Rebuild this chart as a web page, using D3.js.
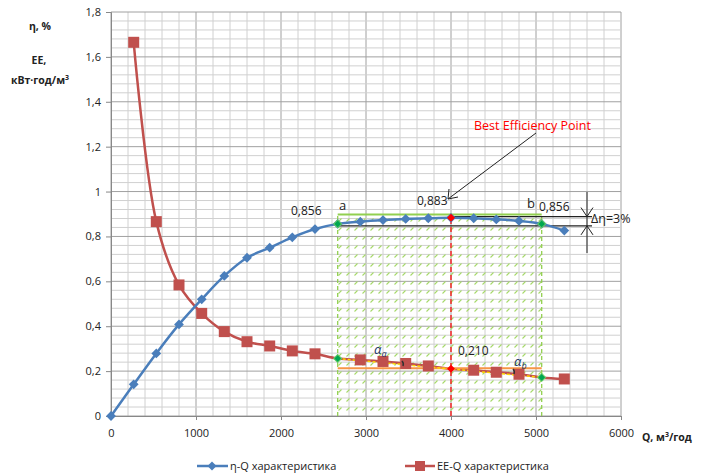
<!DOCTYPE html>
<html><head><meta charset="utf-8">
<script src="https://cdn.jsdelivr.net/npm/d3@7"></script>
<style>body{margin:0;background:#fff}svg{display:block}text{font-family:"Open Sans","Liberation Sans",sans-serif}</style>
</head><body>
<script>
// ---- data ----
const flowQ = [0,267,533,800,1067,1333,1600,1867,2133,2400,2667,2933,3200,3467,3733,4000,4267,4533,4800,5067,5333];
const etaValues = [0,0.141,0.279,0.408,0.520,0.624,0.705,0.750,0.796,0.833,0.856,0.866,0.873,0.878,0.881,0.883,0.881,0.876,0.869,0.856,0.826];
const eeQ = [267,533,800,1067,1333,1600,1867,2133,2400,2667,2933,3200,3467,3733,4000,4267,4533,4800,5067,5333];
const eeValues = [1.665,0.866,0.584,0.457,0.376,0.331,0.312,0.290,0.277,0.256,0.250,0.243,0.234,0.223,0.210,0.204,0.195,0.186,0.172,0.165];
const xTicks = [0,1000,2000,3000,4000,5000,6000];
const yTicks = [0,0.2,0.4,0.6,0.8,1,1.2,1.4,1.6,1.8];
const bepQ = 4000, bepEta = 0.883, bepEE = 0.210;
const pointA = 2667, pointB = 5067, etaAB = 0.856;
const bandTop = 0.893, eeRef = 0.213;
const seriesNames = ["η-Q характеристика","EE-Q характеристика"];

const W = 710, H = 475;
const svg = d3.select("body").append("svg").attr("width", W).attr("height", H);
const x = d3.scaleLinear().domain([0,6000]).range([111,621]);
const y = d3.scaleLinear().domain([0,1.8]).range([416,12]);
const fmt = d => d3.format(".1f")(d).replace(".", ",").replace(/^0,0$/, "0").replace(/,0$/, "");
function fmt2(v) { return d3.format(".3f")(v).replace(".", ","); }

// grid
const g = svg.append("g");
d3.range(0, 6001, 200).forEach(v => {
  const major = v % 1000 === 0;
  g.append("line").attr("x1", x(v)).attr("x2", x(v)).attr("y1", y(0)).attr("y2", y(1.8))
    .attr("stroke", major ? "#a0a0a0" : "#d0d0d0").attr("stroke-width", 1);
});
d3.range(0, 46).forEach(i => {
  const v = i * 0.04, major = i % 5 === 0;
  g.append("line").attr("x1", x(0)).attr("x2", x(6000)).attr("y1", y(v)).attr("y2", y(v))
    .attr("stroke", major ? "#a0a0a0" : "#d0d0d0").attr("stroke-width", 1);
});

// hatch pattern
const defs = svg.append("defs");
const pat = defs.append("pattern").attr("id", "hatch").attr("patternUnits", "userSpaceOnUse")
  .attr("width", 8).attr("height", 9);
pat.append("line").attr("x1", 2.5).attr("y1", 5.5).attr("x2", 5.5).attr("y2", 2.5)
  .attr("stroke", "#a6d96a").attr("stroke-width", 1.1);
svg.append("rect").attr("x", x(pointA)).attr("y", y(bandTop)).attr("width", x(pointB) - x(pointA))
  .attr("height", y(0) - y(bandTop)).attr("fill", "url(#hatch)");
[pointA, pointB].forEach(q => svg.append("line").attr("x1", x(q)).attr("x2", x(q)).attr("y1", y(0)).attr("y2", y(bandTop))
  .attr("stroke", "#92d050").attr("stroke-width", 1.3).attr("stroke-dasharray", "4,3"));

// axes
const xAxis = svg.append("g").attr("transform", `translate(0,${y(0)})`)
  .call(d3.axisBottom(x).tickValues(xTicks).tickSize(4).tickFormat(d3.format("d")));
const yAxis = svg.append("g").attr("transform", `translate(${x(0)},0)`)
  .call(d3.axisLeft(y).tickValues(yTicks).tickSize(5).tickFormat(fmt));
[xAxis, yAxis].forEach(a => {
  a.select(".domain").attr("stroke", "#888");
  a.selectAll(".tick line").attr("stroke", "#888");
  a.selectAll("text").attr("font-size", 11).attr("fill", "#222");
});
xAxis.selectAll("text").attr("dy", "1.3em");
yAxis.selectAll("text").attr("dx", "-2");

// reference lines
svg.append("line").attr("x1", x(bepQ)).attr("x2", x(bepQ)).attr("y1", y(0)).attr("y2", y(bepEta))
  .attr("stroke", "#ff0000").attr("stroke-width", 1.2).attr("stroke-dasharray", "5,3");
svg.append("line").attr("x1", x(bepQ)).attr("x2", 592).attr("y1", y(bandTop) + 1).attr("y2", y(bandTop) + 1)
  .attr("stroke", "#222").attr("stroke-width", 1.2);
svg.append("line").attr("x1", x(pointA)).attr("x2", 592).attr("y1", y(etaAB) + 2).attr("y2", y(etaAB) + 2)
  .attr("stroke", "#222").attr("stroke-width", 1.2);
svg.append("line").attr("x1", x(pointA)).attr("x2", x(pointB)).attr("y1", y(bandTop) - 1).attr("y2", y(bandTop) - 1)
  .attr("stroke", "#92d050").attr("stroke-width", 2);

// lines
const line = d3.line().curve(d3.curveCatmullRom.alpha(0.5));
const etaPts = flowQ.map((q, i) => [x(q), y(etaValues[i])]);
const eePts = eeQ.map((q, i) => [x(q), y(eeValues[i])]);
svg.append("path").attr("d", line(eePts)).attr("fill", "none").attr("stroke", "#c0504d").attr("stroke-width", 2.5);
svg.append("path").attr("d", line(etaPts)).attr("fill", "none").attr("stroke", "#4a7ebb").attr("stroke-width", 2.5);

// orange & yellow
svg.append("line").attr("x1", x(pointA)).attr("x2", x(pointB)).attr("y1", y(eeRef)).attr("y2", y(eeRef))
  .attr("stroke", "#f79646").attr("stroke-width", 2);
const eeA = eeValues[eeQ.indexOf(pointA)], eeB = eeValues[eeQ.indexOf(pointB)];
svg.append("line").attr("x1", x(pointA)).attr("x2", x(pointB)).attr("y1", y(eeA)).attr("y2", y(eeB))
  .attr("stroke", "#ffd700").attr("stroke-width", 1.5).attr("stroke-dasharray", "3,2");

// markers
const diamond = d3.symbol().type(d3.symbolSquare);
svg.append("g").selectAll("path").data(flowQ.map((q, i) => [q, etaValues[i]]))
  .join("path").attr("d", diamond.size(48)).attr("transform", d => `translate(${x(d[0])},${y(d[1])}) rotate(45)`)
  .attr("fill", "#4a7ebb");
svg.append("g").selectAll("rect").data(eeQ.map((q, i) => [q, eeValues[i]]).filter(d => d[0] !== pointA && d[0] !== pointB && d[0] !== bepQ))
  .join("rect").attr("x", d => x(d[0]) - 5.5).attr("y", d => y(d[1]) - 5.5).attr("width", 11).attr("height", 11)
  .attr("fill", "#c0504d");
// special points
[[pointA, etaAB], [pointB, etaAB], [pointA, eeA], [pointB, eeB]].forEach(d =>
  svg.append("path").attr("d", diamond.size(32)).attr("transform", `translate(${x(d[0])},${y(d[1])}) rotate(45)`)
    .attr("fill", "#00a651").attr("stroke", "#66cc66").attr("stroke-width", 1));
[[bepQ, bepEta], [bepQ, bepEE]].forEach(d =>
  svg.append("path").attr("d", diamond.size(32)).attr("transform", `translate(${x(d[0])},${y(d[1])}) rotate(45)`)
    .attr("fill", "#ff0000"));

// small angle arcs
svg.append("path").attr("d", "M402,361 q2,2 1,5").attr("fill", "none").attr("stroke", "#333").attr("stroke-width", 1.5);
svg.append("path").attr("d", "M513,369 q2,2 1,5").attr("fill", "none").attr("stroke", "#333").attr("stroke-width", 1.5);

// dimension line
svg.append("line").attr("x1", 587).attr("x2", 587).attr("y1", 192).attr("y2", 253).attr("stroke", "#222").attr("stroke-width", 1);
const topY = y(bandTop) + 1, botY = y(etaAB) + 2;
svg.append("path").attr("d", `M581,${topY - 9} L587,${topY} L593,${topY - 9}`).attr("fill", "none").attr("stroke", "#222");
svg.append("path").attr("d", `M581,${botY + 9} L587,${botY} L593,${botY + 9}`).attr("fill", "none").attr("stroke", "#222");

// BEP arrow
svg.append("line").attr("x1", 536).attr("y1", 133).attr("x2", 448).attr("y2", 199).attr("stroke", "#222").attr("stroke-width", 1);
svg.append("path").attr("d", "M449,189 L448,199 L458,197").attr("fill", "none").attr("stroke", "#222").attr("stroke-width", 1);

// text annotations
const t = (tx, ty, s, size, col, anchor) => svg.append("text").attr("x", tx).attr("y", ty).text(s)
  .attr("font-size", size || 12).attr("fill", col || "#222").attr("text-anchor", anchor || "start");
t(474, 130, "Best Efficiency Point", 12.5, "#ff0000");
t(291, 215, fmt2(etaAB), 12);
t(339, 210, "a", 13);
t(417, 205, fmt2(bepEta), 12);
t(527, 208, "b", 13);
t(539, 211, fmt2(etaAB), 12);
t(591, 223, "Δη=3%", 12.5);
t(458, 355, fmt2(bepEE), 12);
const alpha = (ax, ay, sub) => {
  const tx = svg.append("text").attr("x", ax).attr("y", ay).attr("font-size", 13).attr("fill", "#1f3864").attr("font-style", "italic");
  tx.append("tspan").text("α");
  tx.append("tspan").text(sub).attr("font-size", 9).attr("dy", 3);
};
alpha(374, 354, "a");
alpha(514, 366, "b");

// axis titles
const yt = svg.append("g").attr("font-weight", "bold").attr("font-size", 10.5).attr("fill", "#222");
yt.append("text").attr("x", 40).attr("y", 30).attr("text-anchor", "middle").text("η, %");
yt.append("text").attr("x", 39).attr("y", 64).attr("text-anchor", "middle").text("EE,");
const yt3 = yt.append("text").attr("x", 40).attr("y", 84).attr("text-anchor", "middle");
yt3.append("tspan").text("кВт·год/м");
yt3.append("tspan").text("3").attr("font-size", 7).attr("dy", -4);
const xt = svg.append("text").attr("x", 642).attr("y", 441).attr("font-weight", "bold").attr("font-size", 10.5).attr("fill", "#222");
xt.append("tspan").text("Q, м");
xt.append("tspan").text("3").attr("font-size", 7).attr("dy", -4);
xt.append("tspan").text("/год").attr("dy", 4);

// legend
const lg = svg.append("g");
lg.append("line").attr("x1", 197).attr("x2", 228).attr("y1", 466).attr("y2", 466).attr("stroke", "#4a7ebb").attr("stroke-width", 2.5);
lg.append("path").attr("d", diamond.size(40)).attr("transform", "translate(212,466) rotate(45)").attr("fill", "#4a7ebb");
lg.append("text").attr("x", 230).attr("y", 470).attr("font-size", 11).attr("fill", "#222").text(seriesNames[0]);
lg.append("line").attr("x1", 405).attr("x2", 435).attr("y1", 466).attr("y2", 466).attr("stroke", "#c0504d").attr("stroke-width", 2.5);
lg.append("rect").attr("x", 415).attr("y", 461).attr("width", 10).attr("height", 10).attr("fill", "#c0504d");
lg.append("text").attr("x", 437).attr("y", 470).attr("font-size", 11).attr("fill", "#222").text(seriesNames[1]);
</script>
</body></html>
